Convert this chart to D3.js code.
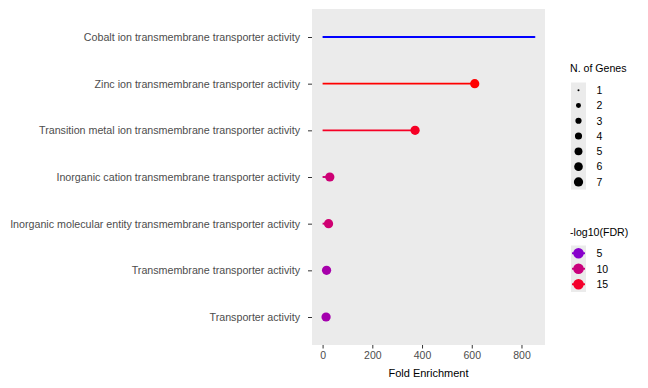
<!DOCTYPE html>
<html>
<head>
<meta charset="utf-8">
<script src="https://cdn.jsdelivr.net/npm/d3@7"></script>
<style>
  html, body { margin: 0; padding: 0; background: #ffffff; }
  svg { display: block; font-family: "Liberation Sans", Arial, Helvetica, sans-serif; }
</style>
</head>
<body>
<svg id="chart" width="648" height="388"></svg>
<script>
// ---- data ----
const categories = [
  "Cobalt ion transmembrane transporter activity",
  "Zinc ion transmembrane transporter activity",
  "Transition metal ion transmembrane transporter activity",
  "Inorganic cation transmembrane transporter activity",
  "Inorganic molecular entity transmembrane transporter activity",
  "Transmembrane transporter activity",
  "Transporter activity"
];
const foldEnrichment = [852, 612, 372, 29, 24, 16, 14];
const nGenes = [1, 7, 7, 7, 7, 7, 7];
const negLog10FDR = [1.9, 16.5, 15.3, 10.4, 10.6, 7.0, 6.8];
const xTicks = [0, 200, 400, 600, 800];
const sizeBreaks = [1, 2, 3, 4, 5, 6, 7];
const colorBreaks = [5, 10, 15];

const data = categories.map((c, i) => ({
  term: c, fe: foldEnrichment[i], genes: nGenes[i], fdr: negLog10FDR[i]
}));

// ---- layout ----
const svg = d3.select("#chart");
const panel = { left: 312, right: 545, top: 9, bottom: 345 };

const xMax = d3.max(foldEnrichment), xMin = 0;
const xPad = (xMax - xMin) * 0.05;
const x = d3.scaleLinear().domain([xMin - xPad, xMax + xPad]).range([panel.left, panel.right]);

const y = d3.scalePoint().domain(categories).range([panel.top, panel.bottom]).padding(0.6);

const color = d3.scaleLinear()
  .domain(d3.extent(negLog10FDR))
  .range(["#0000ff", "#ff0000"])
  .interpolate(d3.interpolateLab);

// size: ggplot area palette, range 1..6, converted to pixel radius
const gMin = 1, gMax = 7;
const sizeR = g => {
  const t = (g - gMin) / (gMax - gMin);
  const s = 1 + Math.sqrt(t) * 5;
  return s * 0.72 + 0.3;
};

// ---- panel ----
svg.append("rect")
  .attr("x", panel.left).attr("y", panel.top)
  .attr("width", panel.right - panel.left).attr("height", panel.bottom - panel.top)
  .attr("fill", "#ebebeb");

// ---- segments and points ----
const g = svg.append("g");
g.selectAll("line.seg").data(data).enter().append("line")
  .attr("class", "seg")
  .attr("x1", x(0)).attr("x2", d => x(d.fe))
  .attr("y1", d => y(d.term)).attr("y2", d => y(d.term))
  .attr("stroke", d => color(d.fdr))
  .attr("stroke-width", 1.9);

g.selectAll("circle.pt").data(data).enter().append("circle")
  .attr("class", "pt")
  .attr("cx", d => x(d.fe)).attr("cy", d => y(d.term))
  .attr("r", d => sizeR(d.genes))
  .attr("fill", d => color(d.fdr));

// ---- axes ----
const xAxis = svg.append("g")
  .attr("transform", `translate(0,${panel.bottom})`)
  .call(d3.axisBottom(x).tickValues(xTicks).tickSize(3.5).tickPadding(3).tickFormat(d3.format("d")));
xAxis.select(".domain").remove();
xAxis.selectAll(".tick line").attr("stroke", "#333333").attr("stroke-width", 1);
xAxis.selectAll(".tick text").attr("fill", "#4d4d4d").style("font-size", "10.5px");

const yAxis = svg.append("g")
  .attr("transform", `translate(${panel.left},0)`)
  .call(d3.axisLeft(y).tickSize(4).tickPadding(8));
yAxis.select(".domain").remove();
yAxis.selectAll(".tick line").attr("stroke", "#333333").attr("stroke-width", 1);
yAxis.selectAll(".tick text").attr("fill", "#4d4d4d").style("font-size", "10.7px");

svg.append("text")
  .attr("x", (panel.left + panel.right) / 2).attr("y", 377)
  .attr("text-anchor", "middle")
  .style("font-size", "11px").attr("fill", "#000")
  .text("Fold Enrichment");

// ---- size legend ----
const lx = 571, kw = 15;
svg.append("text").attr("x", 570).attr("y", 72).style("font-size", "10.6px").attr("fill", "#000")
  .text("N. of Genes");
const kh = 15.3, sTop = 82.5;
svg.append("rect").attr("x", lx).attr("y", sTop).attr("width", kw).attr("height", kh * sizeBreaks.length)
  .attr("fill", "#ebebeb");
const sl = svg.append("g");
sizeBreaks.forEach((b, i) => {
  const cy = sTop + kh * (i + 0.5);
  sl.append("circle").attr("cx", lx + kw / 2).attr("cy", cy).attr("r", sizeR(b)).attr("fill", "#000");
  sl.append("text").attr("x", 596.5).attr("y", cy + 3.8).style("font-size", "10.5px").attr("fill", "#000").text(b);
});

// ---- color legend ----
svg.append("text").attr("x", 570).attr("y", 236).style("font-size", "10.6px").attr("fill", "#000")
  .text("-log10(FDR)");
const cTop = 245.5, ckh = 15.5;
svg.append("rect").attr("x", lx).attr("y", cTop).attr("width", kw).attr("height", ckh * colorBreaks.length)
  .attr("fill", "#ebebeb");
colorBreaks.forEach((b, i) => {
  const cy = cTop + ckh * (i + 0.5);
  svg.append("line").attr("x1", lx + 1).attr("x2", lx + kw - 1).attr("y1", cy).attr("y2", cy)
    .attr("stroke", color(b)).attr("stroke-width", 1.9);
  svg.append("circle").attr("cx", lx + kw / 2).attr("cy", cy).attr("r", 5.3).attr("fill", color(b));
  svg.append("text").attr("x", 596.5).attr("y", cy + 3.8).style("font-size", "10.5px").attr("fill", "#000").text(b);
});
</script>
</body>
</html>
